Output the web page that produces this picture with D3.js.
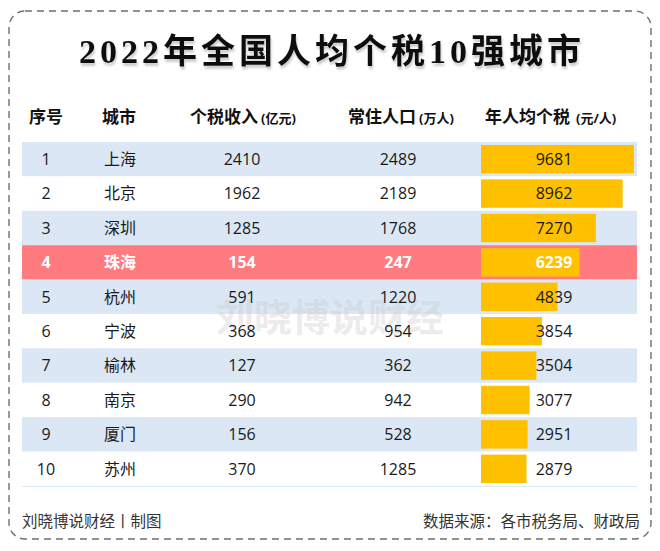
<!DOCTYPE html>
<html><head><meta charset="utf-8">
<script src="https://cdn.jsdelivr.net/npm/d3@7/dist/d3.min.js"></script>
<style>
html,body{margin:0;padding:0;background:#fff;}
svg{display:block;}
</style></head>
<body>
<script>
const titleText = "2022年全国人均个税10强城市";
const headers = ["序号","城市","个税收入","常住人口","年人均个税"];
const headerUnits = ["","","(亿元)","(万人)","(元/人)"];
const ranks = [1,2,3,4,5,6,7,8,9,10];
const cities = ["上海","北京","深圳","珠海","杭州","宁波","榆林","南京","厦门","苏州"];
const taxIncome = [2410,1962,1285,154,591,368,127,290,156,370];
const population = [2489,2189,1768,247,1220,954,362,942,528,1285];
const perCapitaTax = [9681,8962,7270,6239,4839,3854,3504,3077,2951,2879];
const highlightCity = "珠海";
const footerLeft = "刘晓博说财经丨制图";
const footerRight = "数据来源：各市税务局、财政局";
const watermark = "刘晓博说财经";

const W = 660, H = 551;
const sans = "'Open Sans','Noto Sans CJK SC',sans-serif";
const svg = d3.select("body").append("svg").attr("width", W).attr("height", H);

// dashed border
svg.append("rect").attr("x", 9).attr("y", 11).attr("width", 642).attr("height", 528)
  .attr("rx", 16).attr("fill", "none").attr("stroke", "#6f6f6f")
  .attr("stroke-width", 1.4).attr("stroke-dasharray", "7,5");

// title with light shadow
const defs = svg.append("defs");
const f = defs.append("filter").attr("id","sh").attr("x","-5%").attr("y","-20%").attr("width","110%").attr("height","150%");
f.append("feDropShadow").attr("dx",1).attr("dy",3).attr("stdDeviation",1.2).attr("flood-color","#000").attr("flood-opacity",0.2);
svg.append("text").attr("x", 332).attr("y", 63).attr("text-anchor","middle")
  .attr("font-family","'Liberation Serif','Noto Sans CJK SC',serif").attr("font-weight","bold")
  .attr("font-size", 34).attr("letter-spacing", 4).attr("fill","#111").attr("filter","url(#sh)")
  .text(titleText);

const data = ranks.map((r,i)=>({rank:r, city:cities[i], inc:taxIncome[i], pop:population[i], pc:perCapitaTax[i]}));

const y = d3.scaleBand().domain(ranks).range([142, 486]).paddingInner(0);
const x = d3.scaleLinear().domain([0, d3.max(perCapitaTax)]).range([0, 153]);
const barX = 481;
const colX = [46, 120, 242, 398, 554];

// header
const hdrPos = [{x:46,a:"middle"},{x:119,a:"middle"},{x:190,a:"start"},{x:348,a:"start"},{x:485,a:"start"}];
headers.forEach((h,i)=>{
  const t = svg.append("text").attr("x", hdrPos[i].x).attr("y", 123).attr("text-anchor", hdrPos[i].a)
    .attr("font-family", sans).attr("font-weight","bold").attr("fill","#111");
  t.append("tspan").attr("font-size", 17).text(h);
  if (headerUnits[i]) t.append("tspan").attr("font-size", 13).attr("dx", i===4?6:3).text(headerUnits[i]);
});

// row bands
const rows = svg.append("g");
rows.selectAll("rect").data(data).join("rect")
  .attr("x", 22).attr("width", 615)
  .attr("y", d=>y(d.rank)).attr("height", y.bandwidth())
  .attr("fill", (d,i)=> d.city===highlightCity ? "#ff7b80" : (i%2===0 ? "#dbe7f4" : "#ffffff"));
svg.append("line").attr("x1",22).attr("x2",637).attr("y1",486.5).attr("y2",486.5).attr("stroke","#dbe7f4").attr("stroke-width",1);

// watermark
svg.append("text").attr("x", 330).attr("y", 331).attr("text-anchor","middle")
  .attr("font-family","'Noto Sans CJK SC',sans-serif").attr("font-weight","bold")
  .attr("font-size", 38).attr("fill","#c8c8c8").attr("fill-opacity",0.35).text(watermark);

// bars
svg.append("g").selectAll("rect").data(data).join("rect")
  .attr("x", barX).attr("y", d=>y(d.rank)+3).attr("height", y.bandwidth()-6)
  .attr("width", d=>x(d.pc)).attr("fill", "#ffc000");

// cell texts
const cols = [d=>d.rank, d=>d.city, d=>d.inc, d=>d.pop, d=>d.pc];
const g = svg.append("g");
data.forEach(d=>{
  const hl = d.city===highlightCity;
  cols.forEach((fn,ci)=>{
    g.append("text").attr("x", colX[ci]).attr("y", y(d.rank)+y.bandwidth()/2).attr("dy","0.36em")
      .attr("text-anchor","middle").attr("font-family", sans).attr("font-size", 16)
      .attr("font-weight", hl ? "bold" : "normal")
      .attr("fill", hl ? "#ffffff" : "#1a1a1a").text(fn(d));
  });
});

// footer
svg.append("text").attr("x", 22).attr("y", 527).attr("font-family", sans).attr("font-size", 15.5).attr("fill","#333").text(footerLeft);
svg.append("text").attr("x", 640).attr("y", 527).attr("text-anchor","end").attr("font-family", sans).attr("font-size", 15.5).attr("fill","#333").text(footerRight);
</script>
</body></html>
